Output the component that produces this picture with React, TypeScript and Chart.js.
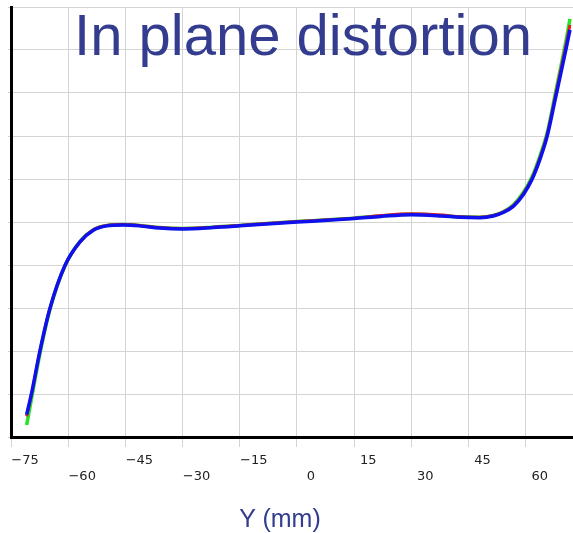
import React, { useEffect, useRef } from "react";
import { Chart, registerables } from "chart.js";

Chart.register(...registerables);

// Y position (mm) along the x axis
const positions = [-70.9, -69.6, -67.4, -64.8, -60.8, -56.9, -53.4, -49.9, -45.5, -41.2, -36, -30, -22, -15, -7, 0, 8, 15, 22, 30, 38, 42.8, 48, 51.5, 54.1, 56.8, 59.4, 61.6, 63.7, 65.7, 67.7, 70.7, 71.6];
// distortion series (grid units)
const blueSeries = [-4.48, -3.98, -2.99, -2.01, -1.0, -0.46, -0.19, -0.09, -0.07, -0.09, -0.14, -0.16, -0.13, -0.09, -0.04, 0.0, 0.04, 0.08, 0.13, 0.17, 0.14, 0.11, 0.1, 0.14, 0.22, 0.37, 0.64, 0.98, 1.45, 2.02, 2.84, 4.08, 4.47];
const redSeries = [-4.52, -4.0, -3.0, -2.02, -1.01, -0.46, -0.18, -0.08, -0.06, -0.08, -0.13, -0.15, -0.12, -0.08, -0.03, 0.01, 0.05, 0.09, 0.15, 0.19, 0.16, 0.12, 0.11, 0.15, 0.23, 0.38, 0.66, 1.0, 1.48, 2.06, 2.9, 4.18, 4.58];
const greenSeries = [-4.72, -4.1, -3.06, -2.04, -1.01, -0.45, -0.18, -0.08, -0.06, -0.08, -0.13, -0.15, -0.12, -0.08, -0.03, 0.01, 0.05, 0.09, 0.14, 0.18, 0.15, 0.12, 0.11, 0.15, 0.24, 0.4, 0.69, 1.04, 1.53, 2.1, 2.96, 4.28, 4.72];
const xTicks = [-75, -60, -45, -30, -15, 0, 15, 30, 45, 60];

const toPoints = (ys: number[]) => positions.map((x, i) => ({ x, y: ys[i] }));

export default function App() {
  const ref = useRef<HTMLCanvasElement>(null);
  useEffect(() => {
    if (!ref.current) return;
    const common = {
      pointRadius: 0,
      fill: false,
      tension: 0.4,
      cubicInterpolationMode: "monotone" as const,
    };
    const chart = new Chart(ref.current, {
      type: "line",
      data: {
        datasets: [
          { ...common, data: toPoints(blueSeries), borderColor: "#1010ee", borderWidth: 3.5 },
          { ...common, data: toPoints(redSeries), borderColor: "#e62020", borderWidth: 3 },
          { ...common, data: toPoints(greenSeries), borderColor: "#22e622", borderWidth: 3.5 },
        ],
      },
      options: {
        responsive: false,
        animation: false,
        layout: { padding: { top: 7, left: 0, right: 0, bottom: 0 } },
        plugins: { legend: { display: false }, tooltip: { enabled: false }, title: { display: false } },
        scales: {
          x: {
            type: "linear",
            min: -75,
            max: 72.4,
            afterBuildTicks: (s: any) => {
              s.ticks = xTicks.map((v) => ({ value: v }));
            },
            afterFit: (s: any) => {
              s.height = 96;
              s.paddingLeft = 0;
              s.paddingRight = 0;
            },
            border: { color: "#000", width: 3 },
            grid: { color: "#d4d4d4", lineWidth: 1, tickLength: 10, drawTicks: true },
            ticks: {
              autoSkip: false,
              maxRotation: 0,
              labelOffset: 14,
              padding: 5,
              color: "#222",
              font: { family: "DejaVu Sans", size: 13, lineHeight: 1.25 },
              callback: (v: any, i: number) => {
                const t = String(v).replace("-", "\u2212");
                return i % 2 === 0 ? [t, ""] : ["", t];
              },
            },
          },
          y: {
            type: "linear",
            min: -5,
            max: 5,
            afterFit: (s: any) => {
              s.width = 11;
            },
            border: { color: "#000", width: 3 },
            grid: { color: "#d4d4d4", lineWidth: 1, tickLength: 3, drawTicks: true },
            ticks: { display: false, stepSize: 1 },
          },
        },
      },
    });
    return () => chart.destroy();
  }, []);

  return (
    <div style={{ position: "fixed", left: 0, top: 0, width: 573, height: 533, background: "#fff", overflow: "hidden" }}>
      <canvas ref={ref} width={573} height={533} style={{ display: "block" }} />
      <div
        style={{
          position: "absolute",
          left: 303,
          top: 6,
          transform: "translateX(-50%)",
          whiteSpace: "nowrap",
          fontFamily: "'Liberation Sans', Arial, sans-serif",
          fontSize: 58,
          lineHeight: 1,
          color: "#333c8e",
          pointerEvents: "none",
        }}
      >
        In plane distortion
      </div>
      <div
        style={{
          position: "absolute",
          left: 280,
          top: 506,
          transform: "translateX(-50%)",
          whiteSpace: "nowrap",
          fontFamily: "'Liberation Sans', Arial, sans-serif",
          fontSize: 25,
          lineHeight: 1,
          color: "#333c8e",
          pointerEvents: "none",
        }}
      >
        Y (mm)
      </div>
    </div>
  );
}
